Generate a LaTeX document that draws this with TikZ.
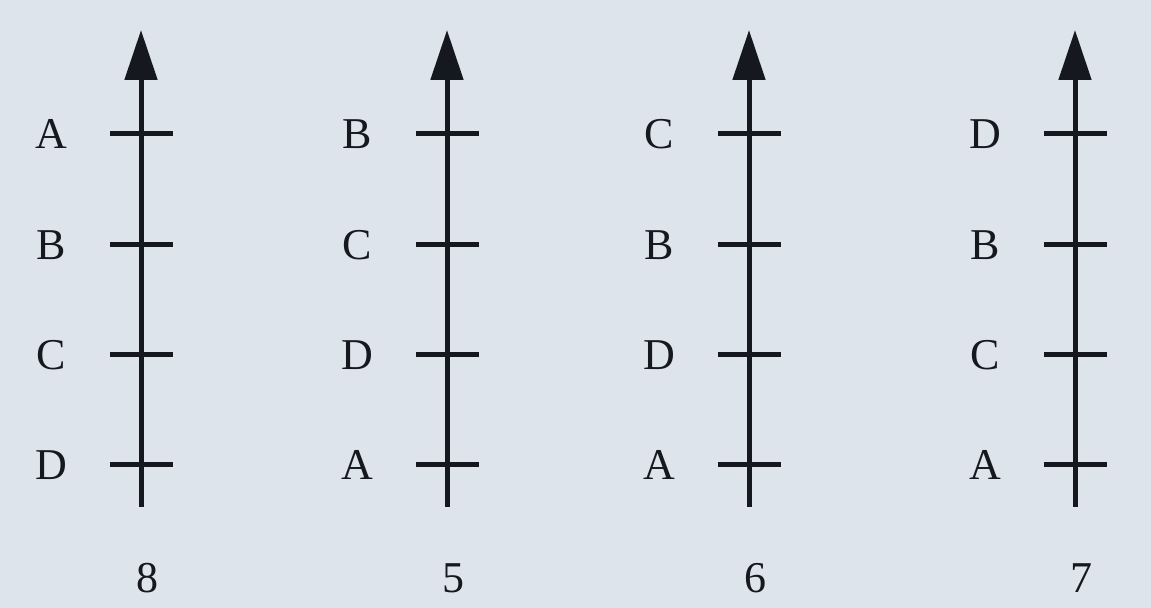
\documentclass[tikz,border=0pt]{standalone}
\usepackage{fontspec}
\setmainfont{Liberation Serif}
\usetikzlibrary{arrows.meta}
\definecolor{paper}{RGB}{222,228,235}
\definecolor{ink}{RGB}{22,24,32}
\begin{document}
\begin{tikzpicture}[x=0.5pt,y=-0.5pt,
    axisline/.style={line width=2.5pt, draw=ink},
    letter/.style={text=ink, font=\fontsize{22}{24}\selectfont},
    number/.style={text=ink, font=\fontsize{22}{24}\selectfont}]
    \fill[paper] (0,0) rectangle (1151,608);
    \foreach \x/\n/\a/\b/\c/\d in {141/8/A/B/C/D, 447/5/B/C/D/A, 749/6/C/B/D/A, 1075/7/D/B/C/A} {
      \coordinate (bot\n) at (\x,507);
      \coordinate (top\n) at (\x,30);
      \draw[axisline,-{Triangle[length=25pt,width=16pt]}] (bot\n) -- (top\n);
      \foreach \y/\l [count=\k] in {134/\a, 245/\b, 355/\c, 465/\d} {
        \draw[axisline] (\x-31,\y) -- (\x+32,\y);
        \node[letter] (lab\n-\k) at (\x-90,\y) {\l};
      }
      \node[number] (num\n) at (\x+6,578) {\n};
    }
  \end{tikzpicture}
\end{document}
